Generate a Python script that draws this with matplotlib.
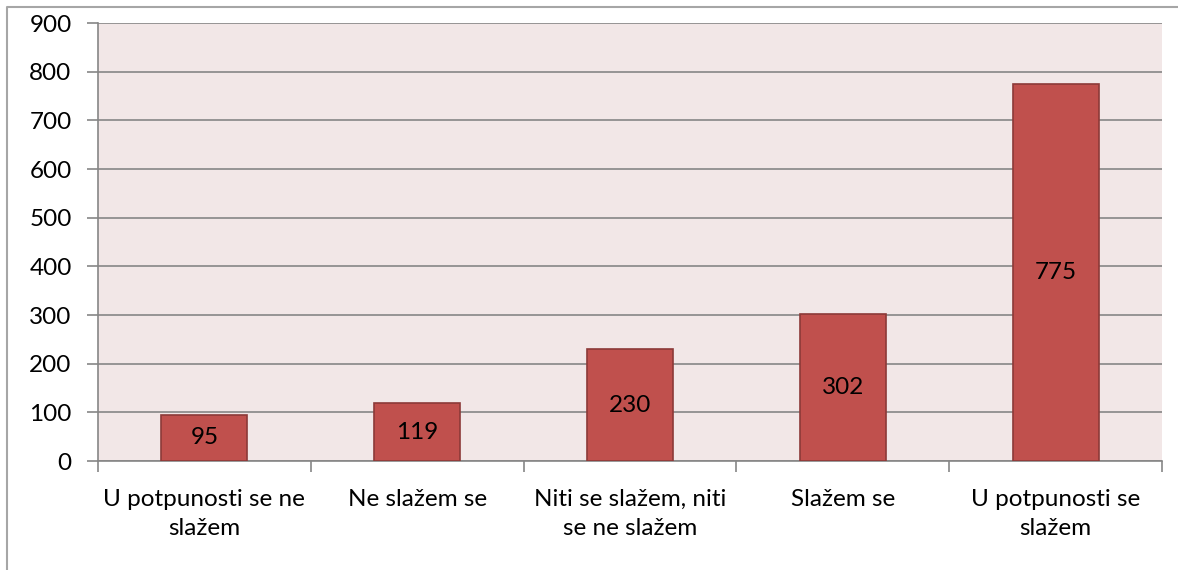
import matplotlib.pyplot as plt
import numpy as np

# --- data ---
categories = ["U potpunosti se ne\nslažem", "Ne slažem se",
              "Niti se slažem, niti\nse ne slažem", "Slažem se",
              "U potpunosti se\nslažem"]
counts = [95, 119, 230, 302, 775]
y_ticks = [0, 100, 200, 300, 400, 500, 600, 700, 800, 900]

plt.rcParams['font.family'] = ['Lato', 'DejaVu Sans']
FS = 17.5

fig = plt.figure(figsize=(11.78, 5.70), dpi=100)
ax = fig.add_axes([98 / 1178, 1 - 461 / 570, 1064 / 1178, 438 / 570])

# outer chart frame (left and top edges only visible)
frame = plt.Line2D([7 / 1178, 7 / 1178, 1.0], [0.0, 1 - 7 / 570, 1 - 7 / 570],
                   transform=fig.transFigure, color='#A6A6A6', lw=1.5)
fig.add_artist(frame)

x = np.arange(len(categories))
ax.set_facecolor('#F2E7E7')
ax.bar(x, counts, width=0.404, color='#C0504D', edgecolor='#8C3A38',
       linewidth=1.2, zorder=3)

for xi, v in zip(x, counts):
    ax.text(xi, v / 2, str(v), ha='center', va='center', fontsize=FS,
            color='black', zorder=4)

ax.set_xlim(-0.5, len(categories) - 0.5)
ax.set_ylim(0, 900)
ax.set_yticks(y_ticks)
ax.yaxis.grid(True, color='#868686', linewidth=1.2, zorder=0)
ax.set_axisbelow(True)

ax.set_xticks(x)
ax.set_xticklabels(categories, fontsize=FS, linespacing=1.5)
ax.tick_params(axis='x', length=0, pad=20)
ax.set_xticks(np.arange(-0.5, len(categories)), minor=True)
ax.tick_params(axis='x', which='minor', length=8, color='#868686', width=1.2)
ax.tick_params(axis='y', labelsize=FS, length=8, color='#868686', width=1.2,
               pad=11)

for side in ['top', 'right']:
    ax.spines[side].set_visible(False)
for side in ['left', 'bottom']:
    ax.spines[side].set_color('#868686')
    ax.spines[side].set_linewidth(1.2)

fig.savefig('out.png', dpi=100)
